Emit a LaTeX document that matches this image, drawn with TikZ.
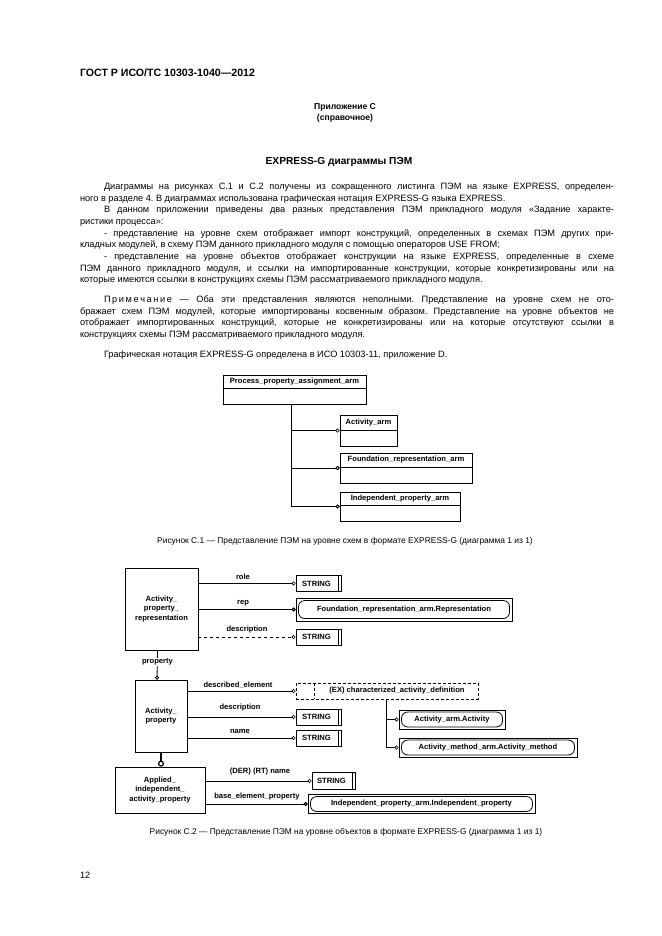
\documentclass[tikz,border=0pt]{standalone}
\usepackage{fontspec}
\setmainfont{Liberation Sans}
\frenchspacing
\usetikzlibrary{arrows.meta,calc}
\tikzset{
  body/.style={anchor=base west, inner sep=0pt, outer sep=0pt, font=\fontsize{9.2}{11}\selectfont},
  centr/.style={anchor=base, inner sep=0pt, outer sep=0pt},
  dfont/.style={font=\fontsize{7.6}{9.8}\selectfont\bfseries},
  box/.style={draw, line width=0.8pt, inner sep=0pt, dfont, align=center},
  conn/.style={line width=0.6pt, -{Circle[open,length=4pt,width=4pt]}},
  lab/.style={dfont, inner sep=0.5pt},
  refin/.style={line width=0.8pt, rounded corners=6pt},
}
\newcommand\JL[4]{\node[body] (#1) at (#2) {\hbox to #3pt{#4}};}
\begin{document}
\begin{tikzpicture}[x=1pt,y=-1pt]
\useasboundingbox (0,0) rectangle (661,936);
\fill[white] (0,0) rectangle (661,936);

% ---------- header ----------
\node[body, font=\fontsize{10.6}{12}\selectfont\bfseries] (hdr) at (80,76.8) {ГОСТ Р ИСО/ТС 10303-1040—2012};
\node[centr, font=\fontsize{8.6}{10}\selectfont\bfseries] (app) at (345,110) {Приложение С};
\node[centr, font=\fontsize{8.6}{10}\selectfont\bfseries] (appb) at (345,121) {(справочное)};
\node[centr, font=\fontsize{10.2}{12}\selectfont\bfseries] (ttl) at (339,164.5) {EXPRESS-G диаграммы ПЭМ};

% ---------- body text ----------
\JL{l1}{104,189.3}{510}{Диаграммы на рисунках С.1 и С.2 получены из сокращенного листинга ПЭМ на языке EXPRESS, определен-}
\node[body] (l2) at (80,201) {ного в разделе 4. В диаграммах использована графическая нотация EXPRESS-G языка EXPRESS.};
\JL{l3}{104,212.7}{510}{В данном приложении приведены два разных представления ПЭМ прикладного модуля «Задание характе-}
\node[body] (l4) at (80,224.4) {ристики процесса»:};
\JL{l5}{104,236.1}{510}{- представление на уровне схем отображает импорт конструкций, определенных в схемах ПЭМ других при-}
\node[body] (l6) at (80,247.8) {кладных модулей, в схему ПЭМ данного прикладного модуля с помощью операторов USE FROM;};
\JL{l7}{104,259.5}{510}{- представление на уровне объектов отображает конструкции на языке EXPRESS, определенные в схеме}
\JL{l8}{80,271.2}{534}{ПЭМ данного прикладного модуля, и ссылки на импортированные конструкции, которые конкретизированы или на}
\node[body] (l9) at (80,282.9) {которые имеются ссылки в конструкциях схемы ПЭМ рассматриваемого прикладного модуля.};

\JL{n1}{104,302.3}{510}{П\kern1.6pt р\kern1.6pt и\kern1.6pt м\kern1.6pt е\kern1.6pt ч\kern1.6pt а\kern1.6pt н\kern1.6pt и\kern1.6pt е — Оба эти представления являются неполными. Представление на уровне схем не ото-}
\JL{n2}{80,314}{534}{бражает схем ПЭМ модулей, которые импортированы косвенным образом. Представление на уровне объектов не}
\JL{n3}{80,325.7}{534}{отображает импортированных конструкций, которые не конкретизированы или на которые отсутствуют ссылки в}
\node[body] (n4) at (80,337.4) {конструкциях схемы ПЭМ рассматриваемого прикладного модуля.};

\node[body] (g1) at (104,357.3) {Графическая нотация EXPRESS-G определена в ИСО 10303-11, приложение D.};

% ---------- Figure C.1 ----------
\node[box, minimum width=143pt, minimum height=29pt] (ppa) at (294.5,389.5) {};
\draw[line width=0.8pt] (ppa.west |- 0,388) -- (ppa.east |- 0,388);
\node[lab] (ppaT) at (294.5,381.5) {Process\_property\_assignment\_arm};

\node[box, minimum width=57pt, minimum height=31pt] (act) at (368.5,430.5) {};
\draw[line width=0.8pt] (act.west |- 0,430) -- (act.east |- 0,430);
\node[lab] (actT) at (368.5,422.5) {Activity\_arm};

\node[box, minimum width=132pt, minimum height=30pt] (fra) at (406,468) {};
\draw[line width=0.8pt] (fra.west |- 0,467) -- (fra.east |- 0,467);
\node[lab] (fraT) at (406,460) {Foundation\_representation\_arm};

\node[box, minimum width=120pt, minimum height=29pt] (ipa) at (400,506.5) {};
\draw[line width=0.6pt] (ipa.west |- 0,505) -- (ipa.east |- 0,505);
\node[lab] (ipaT) at (400,498.5) {Independent\_property\_arm};

\coordinate (pb) at ([xshift=-48pt]act.west |- ppa.south);
\draw[conn] (pb) |- (act.west);
\draw[conn, line width=0.9pt] (pb) |- (fra.west);
\draw[conn, line width=0.9pt] (pb) |- (ipa.west);

\node[centr, font=\fontsize{8.4}{10}\selectfont] (cap1) at (345,543) {Рисунок С.1 — Представление ПЭМ на уровне схем в формате EXPRESS-G (диаграмма 1 из 1)};

% ---------- Figure C.2 ----------
\node[box, minimum width=73pt, minimum height=82pt] (apr) at (161.5,609) {Activity\_\\property\_\\representation};

\node[box, minimum width=45pt, minimum height=16pt] (s1) at (318.5,583.5) {STRING\hspace{4pt}};
\draw[line width=0.8pt] ([xshift=-3pt]s1.north east) -- ([xshift=-3pt]s1.south east);
\node[box, line width=0.9pt, minimum width=216pt, minimum height=23pt] (frr) at (404,609.5) {Foundation\_representation\_arm.Representation};
\draw[refin] ([shift={(3,3)}]frr.north west) rectangle ([shift={(-3,-3)}]frr.south east);
\node[box, minimum width=45pt, minimum height=16pt] (s2) at (318.5,637) {STRING\hspace{4pt}};
\draw[line width=0.8pt] ([xshift=-3pt]s2.north east) -- ([xshift=-3pt]s2.south east);

\draw[conn] (apr.east |- s1.west) -- (s1.west);
\draw[conn, line width=1pt] (apr.east |- frr.west) -- (frr.west);
\draw[conn, dashed] (apr.east |- s2.west) -- (s2.west);
\node[lab] (lrole) at (243,577) {role};
\node[lab] (lrep) at (243,603) {rep};
\node[lab] (ldesc1) at (247,630) {description};

\node[box, minimum width=52pt, minimum height=72pt] (ap) at (161,716) {Activity\_\\property};
\draw[conn, line width=0.8pt] ([xshift=-4pt]apr.south) -- ([xshift=-4pt]ap.north);
\node[lab, fill=white] (lprop) at (157.5,662) {property};

\node[box, dashed, dash pattern=on 3pt off 2pt, minimum width=182pt, minimum height=16pt] (sel) at (387,691) {};
\draw[line width=0.8pt, dash pattern=on 3pt off 2pt] ([xshift=19pt]sel.north west) -- ([xshift=19pt]sel.south west);
\node[lab] (selT) at (397,691) {(EX) characterized\_activity\_definition};
\node[box, minimum width=45pt, minimum height=16pt] (s3) at (318.5,717) {STRING\hspace{4pt}};
\draw[line width=0.8pt] ([xshift=-3pt]s3.north east) -- ([xshift=-3pt]s3.south east);
\node[box, minimum width=45pt, minimum height=16pt] (s4) at (318.5,738) {STRING\hspace{4pt}};
\draw[line width=0.8pt] ([xshift=-3pt]s4.north east) -- ([xshift=-3pt]s4.south east);

\draw[conn] (ap.east |- sel.west) -- (sel.west);
\draw[conn] (ap.east |- s3.west) -- (s3.west);
\draw[conn] (ap.east |- s4.west) -- (s4.west);
\node[lab] (ldel) at (238,685) {described\_element};
\node[lab] (ldesc2) at (240,708) {description};
\node[lab] (lname) at (240,731) {name};

\node[box, line width=0.9pt, minimum width=106pt, minimum height=19pt] (aa) at (452,719.5) {Activity\_arm.Activity};
\draw[refin] ([shift={(3,2.5)}]aa.north west) rectangle ([shift={(-3,-2.5)}]aa.south east);
\node[box, line width=0.9pt, minimum width=178pt, minimum height=19pt] (am) at (488,747.5) {Activity\_method\_arm.Activity\_method};
\draw[refin] ([shift={(3,2.5)}]am.north west) rectangle ([shift={(-3,-2.5)}]am.south east);
\coordinate (selb) at ([xshift=-12pt]aa.west |- sel.south);
\draw[conn] (selb) |- (aa.west);
\draw[conn] (selb) |- (am.west);

\node[box, minimum width=90pt, minimum height=46pt] (aiap) at (160,790) {Applied\_\\independent\_\\activity\_property};
\draw[line width=1.2pt, -{Circle[open,length=6pt,width=6pt]}] (ap.south) -- (ap.south |- aiap.north);

\node[box, minimum width=43pt, minimum height=17pt] (s5) at (333.5,781) {STRING\hspace{4pt}};
\draw[line width=0.8pt] ([xshift=-3pt]s5.north east) -- ([xshift=-3pt]s5.south east);
\node[box, line width=0.9pt, minimum width=227pt, minimum height=19pt] (ipr) at (421.5,804) {Independent\_property\_arm.Independent\_property};
\draw[refin] ([shift={(3,2.5)}]ipr.north west) rectangle ([shift={(-3,-2.5)}]ipr.south east);
\draw[conn] (aiap.east |- s5.west) -- (s5.west);
\draw[conn, line width=1pt] (aiap.east |- ipr.west) -- (ipr.west);
\node[lab] (lder) at (260,772) {(DER) (RT) name};
\node[lab] (lbase) at (257,797) {base\_element\_property};

\node[centr, font=\fontsize{8.4}{10}\selectfont] (cap2) at (346,834) {Рисунок С.2 — Представление ПЭМ на уровне объектов в формате EXPRESS-G (диаграмма 1 из 1)};

\node[body, font=\fontsize{9.2}{11}\selectfont] (pg) at (80,878) {12};
\end{tikzpicture}
\end{document}
